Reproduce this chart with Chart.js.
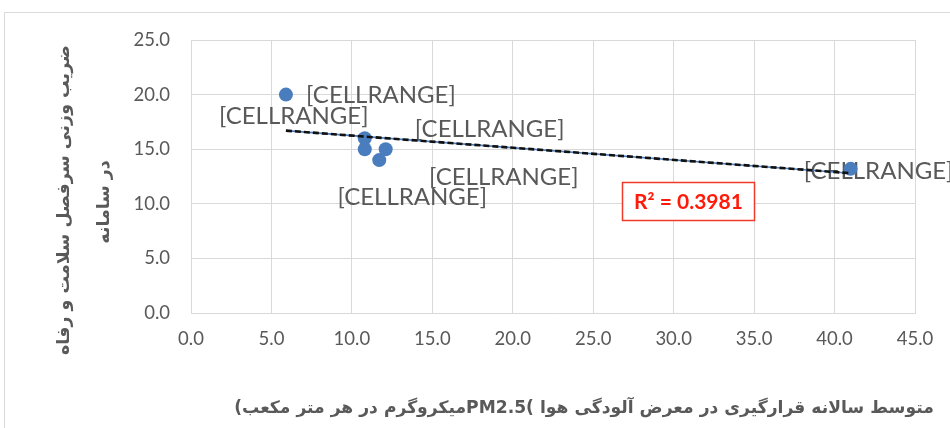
<!DOCTYPE html>
<html>
<head>
<meta charset="utf-8">
<script src="https://cdn.jsdelivr.net/npm/chart.js@4.4.1/dist/chart.umd.min.js"></script>
<style>
  html, body { margin: 0; padding: 0; background: #ffffff; }
  #wrap { width: 950px; height: 428px; position: relative; }
  canvas { display: block; }
</style>
</head>
<body>
<div id="wrap"><canvas id="c" width="950" height="428"></canvas></div>
<script>
// ---- data ----
const xValues = [5.9, 10.8, 10.8, 12.1, 11.7, 41.0];
const yValues = [20.0, 16.0, 15.0, 15.0, 14.0, 13.2];
const pointLabels = ['[CELLRANGE]', '[CELLRANGE]', '[CELLRANGE]', '[CELLRANGE]', '[CELLRANGE]', '[CELLRANGE]'];
const trendX = [5.9, 41.0];
const trendY = [16.7, 12.8];
const rSquaredText = 'R² = 0.3981';
const xAxisMin = 0, xAxisMax = 45, xAxisStep = 5;
const yAxisMin = 0, yAxisMax = 25, yAxisStep = 5;
const xTitle = 'متوسط سالانه قرارگیری در معرض آلودگی هوا )PM2.5میکروگرم در هر متر مکعب)';
const yTitleLines = ['ضریب وزنی سرفصل سلامت و رفاه', 'در سامانه'];

// label placement (pixel offsets from each point), kept apart from the data
const labelOffsets = [[95, 1], [-71, -22.5], [139, 28], [104, -20], [33, 37], [28, 2]];

const GRAY = '#595959';
const GRID = '#d9d9d9';
const BLUE = '#4a7dbd';
const TITLE_FONT = '"DejaVu Sans", sans-serif';
const POINTS_INDEX = 2;

function fitSize(ctx, text, family, weight, target) {
  ctx.save();
  ctx.font = weight + ' 100px ' + family;
  const w = ctx.measureText(text).width;
  ctx.restore();
  return 100 * target / w;
}

const decor = {
  id: 'decor',
  beforeDraw(chart) {
    const ctx = chart.ctx;
    ctx.save();
    ctx.fillStyle = '#ffffff';
    ctx.fillRect(0, 0, chart.width, chart.height);
    ctx.strokeStyle = GRID;
    ctx.lineWidth = 1;
    ctx.strokeRect(4.5, 12.5, 1200, 1200);
    ctx.restore();
  },
  beforeDatasetsDraw(chart) {
    const ctx = chart.ctx;
    const meta = chart.getDatasetMeta(POINTS_INDEX);
    ctx.save();
    ctx.direction = 'ltr';
    ctx.font = '24px Lato, "Open Sans", sans-serif';
    ctx.fillStyle = GRAY;
    ctx.textAlign = 'center';
    ctx.textBaseline = 'middle';
    meta.data.forEach((pt, i) => {
      const off = labelOffsets[i] || [0, 0];
      ctx.fillText(pointLabels[i], pt.x + off[0], pt.y + off[1]);
    });
    ctx.restore();
  },
  afterDraw(chart) {
    const ctx = chart.ctx;
    ctx.save();
    // R squared box
    ctx.fillStyle = '#ffffff';
    ctx.fillRect(622.5, 182.5, 132, 38);
    ctx.strokeStyle = '#f03a2a';
    ctx.lineWidth = 1.5;
    ctx.strokeRect(622.5, 182.5, 132, 38);
    ctx.direction = 'ltr';
    ctx.fillStyle = '#ff1a0a';
    ctx.font = 'bold 21px Lato, "Open Sans", sans-serif';
    ctx.textAlign = 'center';
    ctx.textBaseline = 'middle';
    ctx.fillText(rSquaredText, 688.5, 202);

    // axis titles (RTL)
    ctx.direction = 'rtl';
    ctx.fillStyle = GRAY;
    const xs = fitSize(ctx, xTitle, TITLE_FONT, 'bold', 700);
    ctx.font = 'bold ' + xs + 'px ' + TITLE_FONT;
    ctx.textAlign = 'center';
    ctx.textBaseline = 'middle';
    ctx.fillText(xTitle, 584, 409);

    const ys = fitSize(ctx, yTitleLines[0], TITLE_FONT, 'bold', 310);
    ctx.font = 'bold ' + ys + 'px ' + TITLE_FONT;
    const centers = [[64, 200], [104, 202]];
    yTitleLines.forEach((line, i) => {
      ctx.save();
      ctx.translate(centers[i][0], centers[i][1]);
      ctx.rotate(-Math.PI / 2);
      ctx.fillText(line, 0, 0);
      ctx.restore();
    });
    ctx.restore();
  }
};

const points = xValues.map((x, i) => ({ x: x, y: yValues[i] }));
const trend = trendX.map((x, i) => ({ x: x, y: trendY[i] }));

new Chart(document.getElementById('c'), {
  type: 'scatter',
  data: {
    datasets: [
      { label: 'trend-dash', data: trend, showLine: true, pointRadius: 0, borderColor: '#111111', borderWidth: 2.6, borderDash: [6, 3], order: 0 },
      { label: 'trend-base', data: trend, showLine: true, pointRadius: 0, borderColor: BLUE, borderWidth: 1.6, order: 1 },
      { label: 'points', data: points, pointRadius: 7, pointHoverRadius: 7, backgroundColor: BLUE, borderWidth: 0, order: 2 }
    ]
  },
  options: {
    responsive: false,
    animation: false,
    devicePixelRatio: 1,
    layout: { padding: { top: 40, right: 35, left: 0, bottom: 0 } },
    plugins: { legend: { display: false }, tooltip: { enabled: false } },
    scales: {
      x: {
        type: 'linear', min: xAxisMin, max: xAxisMax,
        ticks: { stepSize: xAxisStep, callback: v => Number(v).toFixed(1), color: GRAY, font: { family: 'Lato, "Open Sans", sans-serif', size: 18.5 }, padding: 15, maxRotation: 0, autoSkip: false },
        grid: { color: GRID, drawTicks: false, lineWidth: 1 },
        border: { color: GRID },
        afterFit(s) { s.height = 115; }
      },
      y: {
        type: 'linear', min: yAxisMin, max: yAxisMax,
        ticks: { stepSize: yAxisStep, callback: v => Number(v).toFixed(1), color: GRAY, font: { family: 'Lato, "Open Sans", sans-serif', size: 18.5 }, padding: 21 },
        grid: { color: GRID, drawTicks: false, lineWidth: 1 },
        border: { color: GRID },
        afterFit(s) { s.width = 191; }
      }
    }
  },
  plugins: [decor]
});
</script>
</body>
</html>
